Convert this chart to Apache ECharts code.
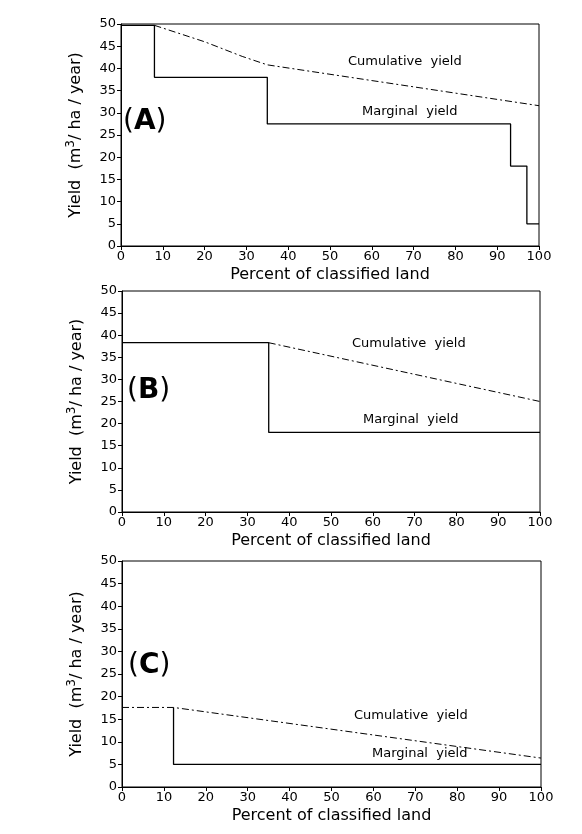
<!DOCTYPE html>
<html lang="en">
<head>
	<meta charset="UTF-8">
	<title>Yield vs percent of classified land</title>
	<script src="https://cdn.jsdelivr.net/npm/echarts@6/dist/echarts.min.js" type="text/javascript"></script>
	<style>
		html,body{margin:0;padding:0;background:#fff;}
		#chart{width:582px;height:834px;}
	</style>
</head>
<body>
<div id="chart"></div>
<script>
	// axis ticks
	var xTicks=[0,10,20,30,40,50,60,70,80,90,100];
	var yTicks=[0,5,10,15,20,25,30,35,40,45,50];
	// panel A
	var marginalA=[[0,49.7],[8,38],[35,27.5],[93.2,18],[97.1,5],[100,5]];
	var cumulativeA=[[8,49.7],[20,46],[29,42.7],[35,40.8],[100,31.6]];
	// panel B
	var marginalB=[[0,38.3],[35.1,18],[100,18]];
	var cumulativeB=[[35.1,38.3],[100,25]];
	// panel C
	var marginalC=[[12.3,17.6],[12.3,5],[100,5]];
	var cumulativeC=[[0,17.6],[12.3,17.6],[100,6.4]];

	var font='DejaVu Sans';
	var grids=[
		{left:121,top:24,width:418,height:222},
		{left:122,top:291,width:418,height:221},
		{left:122,top:561,width:419,height:226}
	];
	var xAxes=[],yAxes=[];
	for(var i=0;i<3;i++){
		grids[i].show=true;
		grids[i].borderColor='#000';
		grids[i].borderWidth=1;
		xAxes.push({
			gridIndex:i,type:'value',min:xTicks[0],max:xTicks[xTicks.length-1],interval:10,
			name:'Percent of classified land',nameLocation:'middle',nameGap:21,
			nameTextStyle:{fontFamily:font,fontSize:16,color:'#000'},
			axisLine:{lineStyle:{color:'#000',width:1}},
			axisTick:{length:4,lineStyle:{color:'#000'}},
			axisLabel:{fontFamily:font,fontSize:13,color:'#000',margin:4},
			splitLine:{show:false}
		});
		yAxes.push({
			gridIndex:i,type:'value',min:yTicks[0],max:yTicks[yTicks.length-1],interval:5,
			name:'Yield  (m{s|3}/ ha / year)',nameLocation:'middle',nameGap:34,
			nameTextStyle:{fontFamily:font,fontSize:16,color:'#000',lineHeight:22,
				rich:{s:{fontFamily:font,fontSize:12,color:'#000',verticalAlign:'top',lineHeight:22}}},
			axisLine:{lineStyle:{color:'#000',width:1}},
			axisTick:{length:4,lineStyle:{color:'#000'}},
			axisLabel:{fontFamily:font,fontSize:13,color:'#000',margin:5},
			splitLine:{show:false}
		});
	}
	//实线
	function solid(idx,data,step){
		return {type:'line',xAxisIndex:idx,yAxisIndex:idx,data:data,step:step,symbol:'none',
			lineStyle:{color:'#000',width:1.3},silent:true,z:3};
	}
	//点划线
	function dashDot(idx,data){
		return {type:'line',xAxisIndex:idx,yAxisIndex:idx,data:data,symbol:'none',
			lineStyle:{color:'#000',width:1,type:[7,3,2,3]},silent:true,z:2};
	}
	function txt(left,top,text,size){
		return {type:'text',left:left,top:top,style:{text:text,fontFamily:font,fontSize:size||13,fill:'#000'}};
	}
	function panelLabel(left,top,letter){
		return {type:'text',left:left,top:top,style:{
			text:'{p|(}{b|'+letter+'}{p|)}',
			rich:{p:{fontFamily:font,fontSize:28,fill:'#000'},b:{fontFamily:font,fontSize:28,fontWeight:'bold',fill:'#000'}}
		}};
	}
	var myChart=echarts.init(document.getElementById('chart'));
	myChart.setOption({
		backgroundColor:'#fff',
		animation:false,
		grid:grids,
		xAxis:xAxes,
		yAxis:yAxes,
		series:[
			solid(0,marginalA,'end'),dashDot(0,cumulativeA),
			solid(1,marginalB,'end'),dashDot(1,cumulativeB),
			solid(2,marginalC,false),dashDot(2,cumulativeC)
		],
		graphic:[
			txt(348,55,'Cumulative  yield'),txt(362,105,'Marginal  yield'),panelLabel(123,108,'A'),
			txt(352,337,'Cumulative  yield'),txt(363,413,'Marginal  yield'),panelLabel(127,377,'B'),
			txt(354,709,'Cumulative  yield'),txt(372,747,'Marginal  yield'),panelLabel(128,652,'C')
		]
	});
</script>
</body>
</html>
